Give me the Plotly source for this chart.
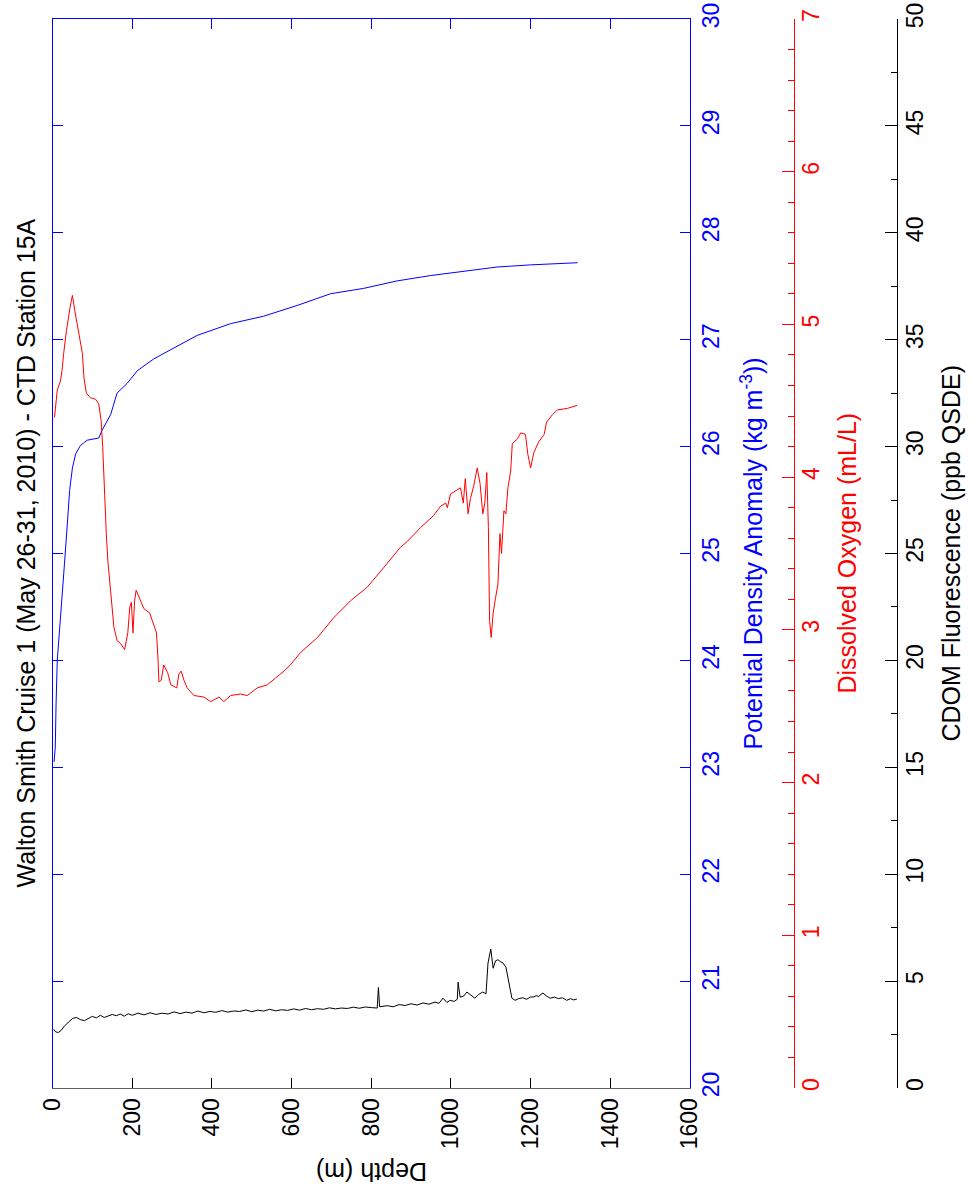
import plotly.graph_objects as go

# ---- Data ----
sigma_depth = [4, 7, 9, 12, 17, 24, 30, 36, 43, 50, 58, 70, 87, 116, 124, 146, 162, 187, 213,
               254, 304, 363, 447, 530, 614, 698, 781, 865, 949, 1032, 1116, 1200, 1318]
sigma_theta = [23.05, 23.19, 23.6, 24.0, 24.25, 24.56, 24.9, 25.21, 25.59, 25.8, 25.93, 26.01,
               26.06, 26.08, 26.15, 26.3, 26.5, 26.59, 26.71, 26.82, 26.92, 27.04, 27.15, 27.22,
               27.32, 27.43, 27.48, 27.55, 27.6, 27.64, 27.68, 27.7, 27.72]

oxy_depth = [5, 12, 20, 24, 28, 35, 44, 50, 56, 66, 75, 79, 85, 95, 108, 116, 122, 126, 128, 132,
             135, 139, 143, 148, 154, 162, 171, 181, 189, 194, 198, 202, 206, 210, 221, 229, 244,
             254, 261, 265, 267, 273, 279, 289, 297, 312, 317, 323, 330, 338, 355, 380, 397, 418,
             430, 447, 472, 489, 514, 539, 564, 581, 597, 622, 665, 706, 748, 790, 832, 873, 891,
             924, 957, 974, 987, 991, 999, 1016, 1024, 1031, 1036, 1043, 1049, 1057, 1066, 1073,
             1080, 1085, 1090, 1094, 1097, 1101, 1106, 1112, 1118, 1123, 1127, 1133, 1138, 1143,
             1150, 1154, 1167, 1175, 1187, 1193, 1200, 1208, 1220, 1234, 1240, 1255, 1267, 1292,
             1317]
oxygen = [4.39, 4.57, 4.63, 4.70, 4.81, 4.96, 5.11, 5.19, 5.09, 4.94, 4.81, 4.65, 4.55, 4.52,
          4.51, 4.48, 4.37, 4.20, 4.06, 3.85, 3.63, 3.45, 3.32, 3.19, 3.02, 2.93, 2.91, 2.87,
          2.98, 3.15, 3.18, 2.98, 3.19, 3.26, 3.19, 3.14, 3.11, 3.04, 2.98, 2.80, 2.66, 2.67,
          2.77, 2.72, 2.64, 2.62, 2.71, 2.73, 2.67, 2.62, 2.57, 2.56, 2.53, 2.56, 2.53, 2.57,
          2.58, 2.57, 2.62, 2.64, 2.69, 2.73, 2.77, 2.85, 2.95, 3.08, 3.19, 3.28, 3.41, 3.54,
          3.58, 3.67, 3.75, 3.81, 3.83, 3.80, 3.89, 3.92, 3.93, 3.83, 3.99, 3.76, 3.86, 3.94,
          4.06, 3.96, 3.76, 3.83, 4.03, 3.67, 3.06, 2.95, 3.11, 3.21, 3.30, 3.63, 3.50, 3.78,
          3.76, 3.93, 4.04, 4.22, 4.25, 4.29, 4.28, 4.15, 4.06, 4.16, 4.23, 4.28, 4.36, 4.41,
          4.44, 4.45, 4.47]

cdom_depth = [3, 8, 15, 22, 30, 40, 50, 60, 70, 80, 90, 100, 110, 120, 130, 140, 150, 160, 170,
              180, 190, 200, 215, 230, 245, 260, 275, 290, 305, 320, 335, 350, 365, 380, 395, 410,
              425, 440, 455, 470, 485, 500, 515, 530, 545, 560, 575, 590, 605, 620, 635, 650, 665,
              680, 695, 710, 725, 740, 755, 770, 785, 800, 815, 818, 821, 840, 855, 870, 885, 900,
              915, 930, 945, 960, 970, 980, 990, 998, 1008, 1016, 1018, 1023, 1032, 1040, 1050,
              1060, 1070, 1080, 1088, 1093, 1100, 1106, 1112, 1118, 1125, 1131, 1138, 1153, 1161,
              1170, 1180, 1190, 1200, 1206, 1214, 1220, 1226, 1231, 1240, 1249, 1260, 1270, 1280,
              1291, 1300, 1308, 1316]
cdom = [2.75, 2.62, 2.60, 2.70, 2.90, 3.10, 3.25, 3.30, 3.20, 3.15, 3.25, 3.35, 3.28, 3.40,
        3.30, 3.36, 3.44, 3.38, 3.46, 3.36, 3.47, 3.40, 3.50, 3.42, 3.52, 3.44, 3.50, 3.46,
        3.56, 3.48, 3.55, 3.50, 3.60, 3.52, 3.58, 3.54, 3.62, 3.55, 3.60, 3.58, 3.65, 3.57,
        3.64, 3.60, 3.68, 3.61, 3.66, 3.63, 3.70, 3.64, 3.72, 3.66, 3.71, 3.68, 3.75, 3.70,
        3.74, 3.72, 3.78, 3.73, 3.79, 3.76, 3.74, 4.70, 3.80, 3.85, 3.80, 3.90, 3.86, 3.94,
        3.88, 3.98, 3.92, 4.02, 3.96, 4.20, 4.00, 4.10, 4.05, 4.15, 4.95, 4.25, 4.30, 4.49,
        4.35, 4.20, 4.38, 4.49, 4.40, 5.84, 6.50, 5.60, 5.95, 6.00, 5.90, 5.84, 5.65, 4.20,
        4.10, 4.18, 4.22, 4.15, 4.26, 4.25, 4.32, 4.28, 4.38, 4.44, 4.30, 4.20, 4.25, 4.18,
        4.22, 4.10, 4.18, 4.12, 4.16]

depth_ticks = [0, 200, 400, 600, 800, 1000, 1200, 1400, 1600]

FONT = "Liberation Sans, Arial, sans-serif"
FS = 23      # tick labels
FT = 25      # titles
BLUE = "#0000FF"
RED = "#FF0000"

W, H = 973, 1201


def px(xp):
    return xp / W


def py(yp):
    return 1 - yp / H


fig = go.Figure()
fig.add_trace(go.Scatter(x=sigma_depth, y=sigma_theta, mode="lines",
                         line=dict(color=BLUE, width=1), xaxis="x", yaxis="y",
                         showlegend=False, hoverinfo="skip"))
fig.add_trace(go.Scatter(x=oxy_depth, y=oxygen, mode="lines",
                         line=dict(color=RED, width=1), xaxis="x", yaxis="y2",
                         showlegend=False, hoverinfo="skip"))
fig.add_trace(go.Scatter(x=cdom_depth, y=cdom, mode="lines",
                         line=dict(color="black", width=1), xaxis="x", yaxis="y3",
                         showlegend=False, hoverinfo="skip"))
# helper trace so the top (blue) depth axis is drawn
fig.add_trace(go.Scatter(x=[0], y=[20], mode="markers", marker=dict(opacity=0),
                         xaxis="x2", yaxis="y", showlegend=False, hoverinfo="skip"))

xdom = [px(52.5), px(690)]
ydom = [py(1088), py(19)]

fig.update_layout(
    width=W, height=H,
    margin=dict(l=0, r=0, t=0, b=0, pad=0, autoexpand=False),
    paper_bgcolor="white", plot_bgcolor="white",
    font=dict(family=FONT, size=FS, color="black"),
    hovermode=False,
    xaxis=dict(domain=xdom, anchor="y", range=[0, 1600], tickvals=depth_ticks,
               ticks="inside", ticklen=10, tickcolor="black", tickangle=-90,
               showline=True, linecolor="#606060", linewidth=1, automargin=False,
               ticklabeloverflow="allow",
               showgrid=False, zeroline=False, tickfont=dict(size=FS, color="black")),
    xaxis2=dict(domain=xdom, anchor="y", overlaying="x", side="top", range=[0, 1600],
                tickvals=depth_ticks, ticks="inside", ticklen=10, tickcolor=BLUE,
                showticklabels=False, showline=True, linecolor=BLUE, linewidth=1,
                automargin=False, showgrid=False, zeroline=False),
    yaxis=dict(domain=ydom, anchor="x", side="right", range=[20, 30], dtick=1,
               ticks="inside", ticklen=10, tickcolor=BLUE, tickangle=-90,
               showline=True, linecolor=BLUE, linewidth=1, mirror="ticks", automargin=False,
               ticklabeloverflow="allow",
               showgrid=False, zeroline=False, tickfont=dict(size=FS, color=BLUE)),
    yaxis2=dict(domain=ydom, overlaying="y", anchor="free", position=px(794), side="right",
                range=[0, 7], dtick=1, ticks="inside", ticklen=12, tickcolor=RED,
                minor=dict(dtick=0.2, ticks="inside", ticklen=6, tickcolor=RED, showgrid=False),
                tickangle=-90, showline=True, linecolor=RED, linewidth=1, automargin=False,
                ticklabeloverflow="allow", ticklabelstandoff=-4,
                showgrid=False, zeroline=False, tickfont=dict(size=FS, color=RED)),
    yaxis3=dict(domain=ydom, overlaying="y", anchor="free", position=px(897), side="right",
                range=[0, 50], dtick=5, ticks="inside", ticklen=12, tickcolor="black",
                minor=dict(dtick=2.5, ticks="inside", ticklen=6, tickcolor="black", showgrid=False),
                tickangle=-90, showline=True, linecolor="black", linewidth=1, automargin=False,
                ticklabeloverflow="allow", ticklabelstandoff=-3,
                showgrid=False, zeroline=False, tickfont=dict(size=FS, color="black")),
)

ymid = py(553.5)
annots = [
    dict(text="Walton Smith Cruise 1 (May 26-31, 2010) - CTD Station 15A", x=px(25), y=ymid,
         textangle=-90, font=dict(size=FT, color="black")),
    dict(text="Potential Density Anomaly (kg m<sup>-3</sup>))", x=px(751), y=ymid,
         textangle=-90, font=dict(size=FT, color=BLUE)),
    dict(text="Dissolved Oxygen (mL/L)", x=px(846), y=ymid,
         textangle=-90, font=dict(size=FT, color=RED)),
    dict(text="CDOM Fluorescence (ppb QSDE)", x=px(950), y=ymid,
         textangle=-90, font=dict(size=FT, color="black")),
    dict(text="Depth (m)", x=px(372), y=py(1172),
         textangle=180, font=dict(size=FT, color="black")),
]
for a in annots:
    fig.add_annotation(xref="paper", yref="paper", showarrow=False,
                       xanchor="center", yanchor="middle", **a)

fig.write_html("out.html", config={"displayModeBar": False, "staticPlot": True},
               post_script="document.body.style.margin='0';document.body.style.overflow='hidden';")
